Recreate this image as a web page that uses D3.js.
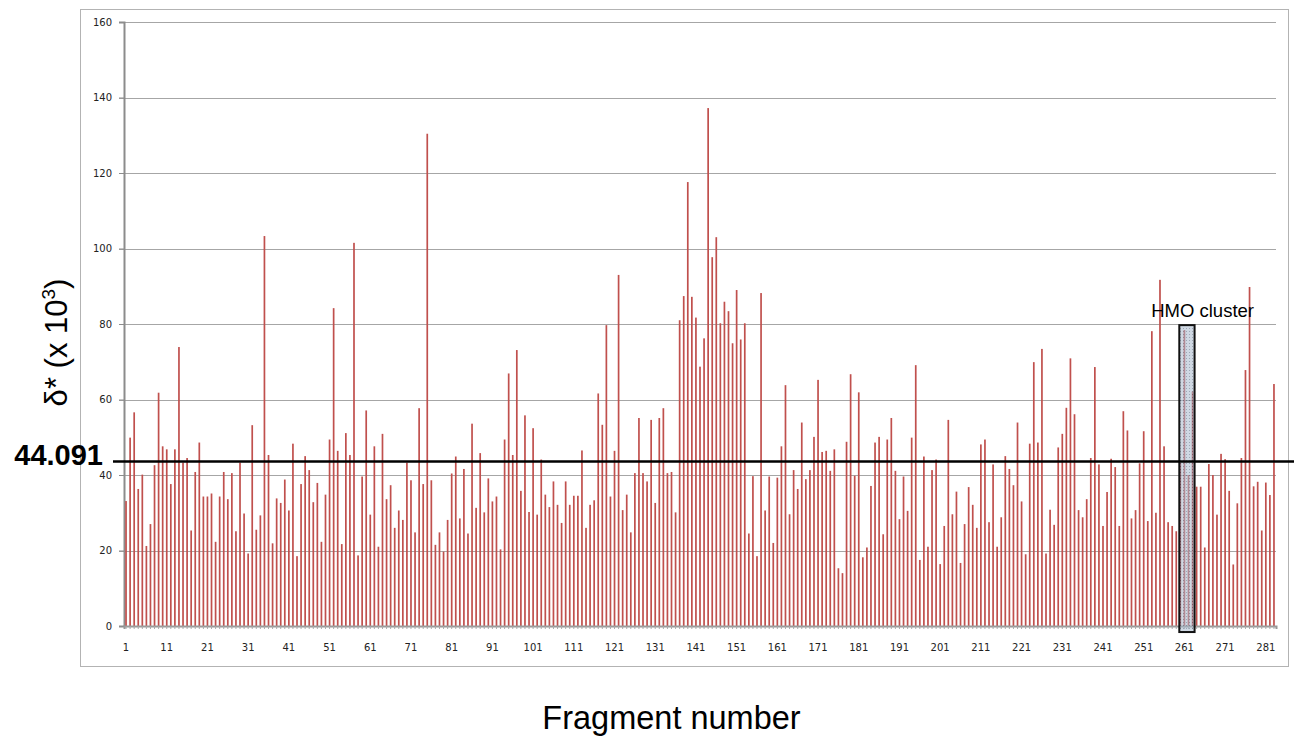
<!DOCTYPE html>
<html>
<head>
<meta charset="utf-8">
<script src="https://cdn.jsdelivr.net/npm/d3@7"></script>
<style>
  html, body { margin: 0; padding: 0; background: #fff; }
  svg { display: block; }
</style>
</head>
<body>
<svg id="chart" width="1294" height="738"></svg>
<script>
// ---- data ----
const values = [
  33.1, 49.9, 56.6, 36.3, 40.1, 21.2, 27.0, 42.6, 61.8, 47.6,
  46.8, 37.6, 46.8, 73.9, 43.3, 44.5, 25.3, 40.8, 48.6, 34.3,
  34.3, 35.1, 22.3, 34.3, 40.8, 33.6, 40.5, 25.1, 43.3, 29.8,
  19.2, 53.2, 25.5, 29.3, 103.3, 45.3, 21.9, 33.8, 32.6, 38.8,
  30.6, 48.3, 18.5, 37.6, 45.0, 41.3, 32.8, 37.9, 22.3, 34.8,
  49.4, 84.2, 46.4, 21.7, 51.1, 45.3, 101.5, 18.7, 39.6, 57.1,
  29.5, 47.6, 21.0, 50.9, 33.6, 37.3, 26.0, 30.6, 28.1, 43.3,
  38.6, 24.8, 57.7, 37.6, 130.4, 38.6, 21.5, 24.8, 19.7, 28.1,
  40.4, 44.9, 28.5, 41.6, 24.5, 53.6, 31.3, 45.8, 30.1, 39.1,
  33.0, 34.3, 20.3, 49.4, 66.9, 45.3, 73.1, 35.8, 55.8, 30.2,
  52.4, 29.5, 44.1, 34.8, 31.5, 38.3, 32.1, 27.3, 38.3, 32.1,
  34.5, 34.5, 46.5, 26.0, 32.1, 33.3, 61.6, 53.3, 79.7, 34.3,
  46.4, 93.0, 30.7, 34.8, 24.8, 40.5, 55.1, 40.5, 38.3, 54.6,
  32.6, 55.1, 57.7, 40.5, 40.8, 30.1, 81.0, 87.4, 117.6, 87.2,
  81.7, 68.7, 76.2, 137.2, 97.7, 103.0, 80.2, 85.9, 83.4, 74.9,
  89.0, 75.9, 80.2, 24.5, 39.7, 18.5, 88.2, 30.6, 39.6, 22.0,
  39.3, 47.6, 63.8, 29.6, 41.3, 36.3, 53.9, 38.9, 41.3, 50.1,
  65.2, 46.1, 46.4, 41.1, 46.8, 15.3, 14.0, 48.8, 66.7, 39.8,
  61.9, 18.2, 20.8, 37.1, 48.6, 50.1, 24.3, 49.4, 55.1, 41.1,
  28.3, 39.6, 30.5, 49.9, 69.1, 17.5, 44.9, 21.0, 41.3, 44.1,
  16.4, 26.5, 54.6, 29.6, 35.6, 16.7, 27.0, 36.8, 32.1, 26.0,
  48.1, 49.4, 27.5, 42.8, 21.0, 28.8, 45.0, 41.6, 37.3, 53.9,
  33.0, 19.0, 48.3, 69.9, 48.6, 73.4, 19.2, 30.8, 26.8, 47.3,
  50.9, 57.8, 70.9, 56.1, 30.7, 28.8, 33.6, 44.5, 68.6, 42.8,
  26.5, 35.5, 44.3, 42.1, 26.5, 56.9, 51.8, 28.5, 30.7, 43.1,
  51.6, 27.8, 78.1, 30.0, 91.7, 47.6, 27.5, 26.5, 25.1, 43.2,
  78.4, 40.0, 62.1, 36.9, 36.9, 20.8, 42.9, 40.0, 29.5, 45.6,
  44.2, 35.8, 16.3, 32.5, 44.5, 67.8, 89.8, 37.0, 38.2, 25.3,
  38.0, 34.7, 64.1
];
const fragments = values.map((_, i) => i + 1);
const xTickLabels = d3.range(1, 282, 10);
const yTicks = [0, 20, 40, 60, 80, 100, 120, 140, 160];
const threshold = 44.091;
const thresholdLabel = "44.091";
const clusterFragments = [260, 261, 262, 263];
const clusterTop = 79.7;
const clusterLabel = "HMO cluster";
const xTitle = "Fragment number";

// ---- layout ----
const svg = d3.select("#chart");
const plot = { left: 124, right: 1276, top: 22, bottom: 626 };

const x = d3.scaleBand().domain(fragments).range([plot.left, plot.right]).paddingInner(0).paddingOuter(0);
const y = d3.scaleLinear().domain([0, 160]).range([plot.bottom, plot.top]);

// outer frame
svg.append("rect")
  .attr("x", 80.5).attr("y", 9.5).attr("width", 1208).attr("height", 657)
  .attr("fill", "none").attr("stroke", "#b3b3b3").attr("stroke-width", 1);

// pattern for cluster box
const defs = svg.append("defs");
const pat = defs.append("pattern").attr("id", "dots")
  .attr("width", 3).attr("height", 3).attr("patternUnits", "userSpaceOnUse");
pat.append("rect").attr("width", 3).attr("height", 3).attr("fill", "#a7b8cc");
pat.append("rect").attr("x", 1).attr("y", 1).attr("width", 1).attr("height", 1).attr("fill", "#4f5f78");

// gridlines
svg.append("g").selectAll("line").data(yTicks.filter(d => d > 0)).join("line")
  .attr("x1", plot.left - 5).attr("x2", plot.right)
  .attr("y1", d => Math.round(y(d)) + 0.5).attr("y2", d => Math.round(y(d)) + 0.5)
  .attr("stroke", "#a6a6a6").attr("stroke-width", 1);

// y axis
const yAxis = svg.append("g").attr("transform", `translate(${plot.left},0)`)
  .call(d3.axisLeft(y).tickValues(yTicks).tickSize(5).tickPadding(7).tickFormat(d3.format("d")));
yAxis.select(".domain").attr("stroke", "#8c8c8c").attr("stroke-width", 2);
yAxis.selectAll(".tick line").attr("stroke", "#8c8c8c");
yAxis.selectAll(".tick text").attr("font-family", "DejaVu Sans, sans-serif").attr("font-size", 10).attr("fill", "#222");

// bars
svg.append("g").selectAll("rect").data(values).join("rect")
  .attr("x", (d, i) => x(fragments[i]) + x.bandwidth() / 2 - 0.85)
  .attr("width", 1.7)
  .attr("y", d => y(d))
  .attr("height", d => y(0) - y(d))
  .attr("fill", "#c0504d");

// x axis
const xAxis = svg.append("g").attr("transform", `translate(0,${plot.bottom})`)
  .call(d3.axisBottom(x).tickValues(fragments).tickSize(3).tickFormat(""));
xAxis.select(".domain").attr("stroke", "#999").attr("stroke-width", 2);
xAxis.selectAll(".tick line").attr("stroke", "#aaa");
svg.append("g").selectAll("text").data(xTickLabels).join("text")
  .attr("x", d => x(d) + x.bandwidth() / 2)
  .attr("y", 651)
  .attr("text-anchor", "middle")
  .attr("font-family", "DejaVu Sans, sans-serif").attr("font-size", 10).attr("fill", "#222")
  .text(d => d);

// HMO cluster box
const cx0 = x(clusterFragments[0]);
const cx1 = x(clusterFragments[clusterFragments.length - 1]) + x.bandwidth();
svg.append("rect")
  .attr("x", cx0 + 1).attr("y", y(clusterTop))
  .attr("width", cx1 - cx0 - 1).attr("height", y(-1.6) - y(clusterTop))
  .attr("fill", "url(#dots)").attr("fill-opacity", 0.55)
  .attr("stroke", "#111").attr("stroke-width", 2);
svg.append("text")
  .attr("x", cx1 + 8).attr("y", 317)
  .attr("text-anchor", "middle")
  .attr("font-family", "Liberation Sans, Arial, sans-serif").attr("font-size", 18.5).attr("fill", "#000")
  .text(clusterLabel);

// threshold line
svg.append("line")
  .attr("x1", 113).attr("x2", 1294)
  .attr("y1", y(threshold) + 2).attr("y2", y(threshold) + 2)
  .attr("stroke", "#000").attr("stroke-width", 2.5);
svg.append("text")
  .attr("x", 103).attr("y", 465)
  .attr("text-anchor", "end")
  .attr("font-family", "Liberation Sans, Arial, sans-serif").attr("font-weight", "bold")
  .attr("font-size", 29).attr("fill", "#000")
  .text(thresholdLabel);

// y title
const yt = svg.append("text")
  .attr("transform", "translate(67,342.5) rotate(-90)")
  .attr("text-anchor", "middle")
  .attr("font-family", "Liberation Sans, Arial, sans-serif").attr("font-size", 31).attr("fill", "#000");
yt.append("tspan").text("δ* (x 10");
yt.append("tspan").attr("font-size", 19).attr("dy", -12).text("3");
yt.append("tspan").attr("dy", 12).text(")");

// x title
svg.append("text")
  .attr("x", 671.5).attr("y", 729)
  .attr("text-anchor", "middle")
  .attr("font-family", "Liberation Sans, Arial, sans-serif").attr("font-size", 32.5).attr("fill", "#000")
  .text(xTitle);
</script>
</body>
</html>
